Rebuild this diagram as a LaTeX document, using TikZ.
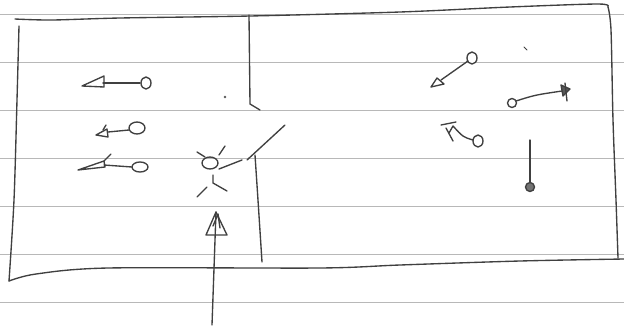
\documentclass[tikz,border=0pt]{standalone}
\begin{document}
\begin{tikzpicture}[x=1pt,y=-1pt,line cap=round,line join=round,
  pencil/.style={draw=black!75,line width=1.35pt},
  ruled/.style={draw=black!28,line width=0.8pt},
  ring/.style={pencil,fill=white},
  dotring/.style={pencil,fill=black!55}]
\useasboundingbox (0,0) rectangle (624,335);
\fill[white] (0,0) rectangle (624,335);
% ruled paper lines
\foreach \y in {14,62,110,158,206,254,302}
  \draw[ruled] (0,\y) -- (624,\y);
% outer box
\draw[pencil] plot[smooth,tension=0.5] coordinates {(15,19) (52,20) (120,18) (250,16) (400,12) (510,7) (598,4) (608,7)};
\draw[pencil] plot[smooth,tension=0.5] coordinates {(608,7) (611,30) (613,120) (616,200) (618,258)};
\draw[pencil] plot[smooth,tension=0.5] coordinates {(19,26) (17,100) (14,200) (9,281)};
\draw[pencil] plot[smooth,tension=0.5] coordinates {(9,281) (36,274) (108,268) (320,268) (400,265) (520,261) (624,259)};
% divider wall
\coordinate (dtop) at (249,15);
\coordinate (dbend) at (250,104);
\coordinate (dhook) at (260,110);
\draw[pencil] (dtop) -- (dbend) -- (dhook);
% door
\coordinate (doorA) at (285,125);
\coordinate (doorB) at (247,160);
\draw[pencil] (doorA) -- (doorB);
\coordinate (wallA) at (255,155);
\coordinate (wallB) at (262,262);
\draw[pencil] (wallA) .. controls (258,200) .. (wallB);
% person
\draw[pencil] (210,163) ellipse [x radius=8,y radius=6];
\draw[pencil] (197,152) -- (205,157);
\draw[pencil] (225,146) -- (219,155);
\draw[pencil] (219,169) -- (242,160);
\draw[pencil] (213,175) -- (213,183) -- (227,191);
\draw[pencil] (207,187) -- (197,197);
% upward arrow
\coordinate (upS) at (212,325);
\coordinate (upE) at (216,212);
\draw[pencil] (upS) -- (upE);
\draw[pencil] (216,212) -- (206,235) -- (227,235) -- cycle;
\draw[pencil] (213,226) -- (218,214) -- (220,228);
% left arrows
\draw[ring] (146,83) ellipse [x radius=5,y radius=6];
\draw[pencil] (140,83) -- (103,83);
\draw[pencil] (82,86) -- (104,76) -- (104,87) -- cycle;
\draw[ring] (137,128) ellipse [x radius=8,y radius=6];
\draw[pencil] (129,130) -- (108,132);
\draw[pencil] (96,135) -- (107,129) -- (108,137) -- cycle;
\draw[pencil] (103,130) -- (106,125);
\draw[ring] (140,167) ellipse [x radius=8,y radius=5];
\draw[pencil] (132,167) -- (104,165);
\draw[pencil] (78,170) -- (104,161) -- (105,167) -- cycle;
\draw[pencil] (104,161) -- (111,154);
% dots
\fill[black!65] (225,97) circle (1.3pt);
\draw[pencil,line width=0.9pt] (524,47) -- (527,50);
% right arrows
\draw[ring] (472,58) ellipse [x radius=5,y radius=6];
\draw[pencil] (468,61) -- (441,80);
\draw[pencil] (431,87) -- (437,78) -- (444,84) -- cycle;
\draw[ring] (512,103) circle (4.5);
\draw[pencil] (516,101) .. controls (535,95) .. (562,91);
\draw[pencil,fill=black!65] (570,89) -- (561,85) -- (563,96) -- cycle;
\draw[pencil] (565,83) -- (567,101);
\draw[ring] (478,141) ellipse [x radius=5,y radius=6];
\draw[pencil] (473,140) .. controls (463,137) .. (453,126);
\draw[pencil] (441,125) -- (456,122);
\draw[pencil] (446,128) -- (453,141);
\draw[pencil] (453,126) -- (449,133);
\draw[pencil] (530,140) -- (530,182);
\draw[dotring] (530,187) circle (4.5);
\end{tikzpicture}
\end{document}
